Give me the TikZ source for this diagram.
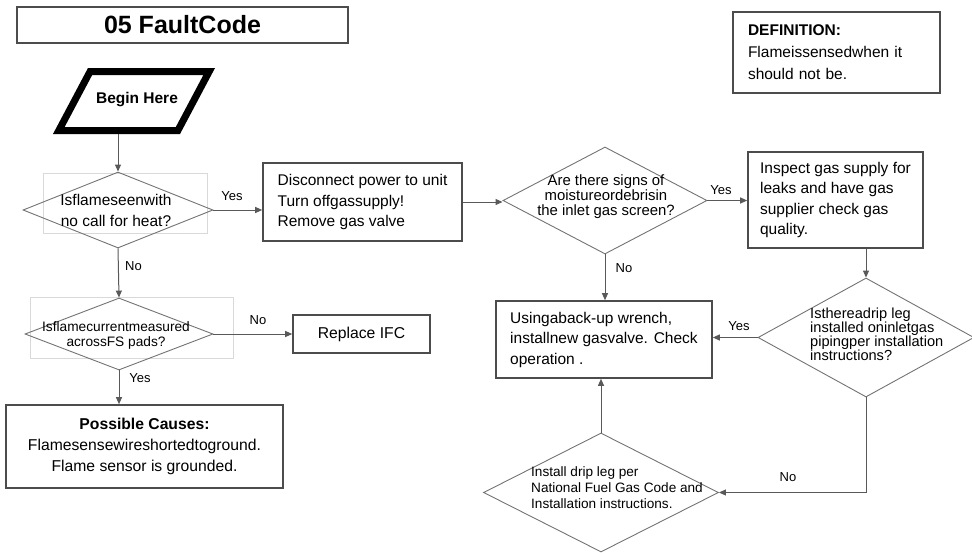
\documentclass[tikz,border=0pt]{standalone}
\usepackage{fontspec}
\setmainfont{Liberation Sans}
\usetikzlibrary{shapes.geometric,arrows.meta}

\begin{document}
\begin{tikzpicture}[x=1pt, y=-1pt,
        box/.style={draw=black!70, line width=1.6pt, align=left, inner sep=0pt, font=\fontsize{15.5}{20.5}\selectfont},
        dia/.style={diamond, draw=black!55, line width=0.9pt, inner sep=0pt},
        dtxt/.style={inner sep=0pt, font=\fontsize{14.6}{15}\selectfont},
        ghost/.style={draw=black!15, line width=0.8pt},
        lbl/.style={inner sep=0pt, font=\fontsize{13}{15}\selectfont},
        flow/.style={draw=black!65, line width=1pt, -{Triangle[length=7pt,width=6pt]}}]
        \useasboundingbox (0,0) rectangle (972,552);

        \draw[ghost] (43,173) rectangle (207,233);
        \draw[ghost] (30,297) rectangle (233,358);

        \node[draw=black!70, line width=1.6pt, minimum width=331pt, minimum height=36pt, font=\fontsize{25}{30}\selectfont\bfseries] (title) at (182.5,25) {05 FaultCode};
        \node[box, minimum width=207pt, minimum height=81pt, text width=177pt, inner xsep=15pt, font=\fontsize{15.5}{22}\selectfont] (defn) at (836.5,52.5) {\textbf{DEFINITION:}\\Flameissensedwhen it\\should not be.};

        \draw[line width=7pt, miter limit=4] (90.1,71.5) -- (209.2,71.5) -- (177.9,130.5) -- (58.8,130.5) -- cycle;
        \node[inner sep=0pt, font=\fontsize{15.5}{18}\selectfont\bfseries] (start) at (137,100) {Begin Here};
        \coordinate (startout) at (118,134);

        \node[dia, minimum width=190pt, minimum height=76pt] (q1) at (118,210) {};
        \node[dtxt, align=center, font=\fontsize{15.5}{21}\selectfont] (q1t) at (116,210) {Isflameseenwith\\no call for heat?};
        \node[box, minimum width=199pt, minimum height=78pt] (act1) at (362.5,202) {Disconnect power to unit\\Turn offgassupply!\\Remove gas valve};

        \node[dia, minimum width=188pt, minimum height=72pt] (q2) at (119,334) {};
        \node[dtxt, align=center, font=\fontsize{13.7}{15}\selectfont] (q2t) at (116,335) {Isflamecurrentmeasured\\acrossFS pads?};
        \node[box, minimum width=137pt, minimum height=38pt, font=\fontsize{15.7}{18}\selectfont] (ifc) at (361.5,334) {Replace IFC};
        \node[box, align=center, minimum width=277pt, minimum height=83pt, font=\fontsize{15.7}{21}\selectfont] (causes) at (144.5,446.5) {\textbf{Possible Causes:}\\Flamesensewireshortedtoground.\\Flame sensor is grounded.};

        \node[dia, minimum width=204pt, minimum height=107pt] (q3) at (605,200.5) {};
        \node[dtxt, align=center, font=\fontsize{14.9}{15}\selectfont] (q3t) at (606,197) {Are there signs of\\moistureordebrisin\\the inlet gas screen?};
        \node[box, minimum width=175pt, minimum height=96pt] (inspect) at (835.5,200) {Inspect gas supply for\\leaks and have gas\\supplier check gas\\quality.};
        \node[box, minimum width=216pt, minimum height=77pt] (fix) at (604,339.5) {Usingaback-up wrench,\\installnew gasvalve. Check\\operation .};

        \node[dia, minimum width=216pt, minimum height=119pt] (q4) at (866,337.5) {};
        \node[dtxt, align=left, anchor=west, font=\fontsize{14.6}{14}\selectfont] (q4t) at (810,334) {Isthereadrip leg\\installed oninletgas\\pipingper installation\\instructions?};
        \node[dia, minimum width=235pt, minimum height=119pt] (q5) at (601,492.5) {};
        \node[dtxt, align=left, anchor=west, font=\fontsize{13.6}{16}\selectfont] (q5t) at (531,488) {Install drip leg per\\National Fuel Gas Code and\\Installation instructions.};

        \draw[flow] (startout) -- (q1.north);
        \draw[flow] (q1.east) -- (q1.east -| act1.west);
        \draw[flow] (q1.south) -- (q2.north);
        \draw[flow] (q2.east) -- (q2.east -| ifc.west);
        \draw[flow] (q2.south) -- (q2.south |- causes.north);
        \draw[flow] (act1.east) -- (act1.east -| q3.west);
        \draw[flow] (q3.east) -- (q3.east -| inspect.west);
        \draw[flow] (q3.south) -- (q3.south |- fix.north);
        \draw[flow] (q4.north |- inspect.south) -- (q4.north);
        \draw[flow] (q4.west) -- (q4.west -| fix.east);
        \draw[flow] (q4.south) |- (q5.east);
        \draw[flow] (q5.north) -- (q5.north |- fix.south);

        \node[lbl] (y1) at (232,196) {Yes};
        \node[lbl] (n1) at (133.5,266) {No};
        \node[lbl] (n2) at (258,320) {No};
        \node[lbl] (y2) at (140,378) {Yes};
        \node[lbl] (y3) at (721,190) {Yes};
        \node[lbl] (n3) at (624,268) {No};
        \node[lbl] (y4) at (739,326) {Yes};
        \node[lbl] (n4) at (788,477) {No};
\end{tikzpicture}
\end{document}
